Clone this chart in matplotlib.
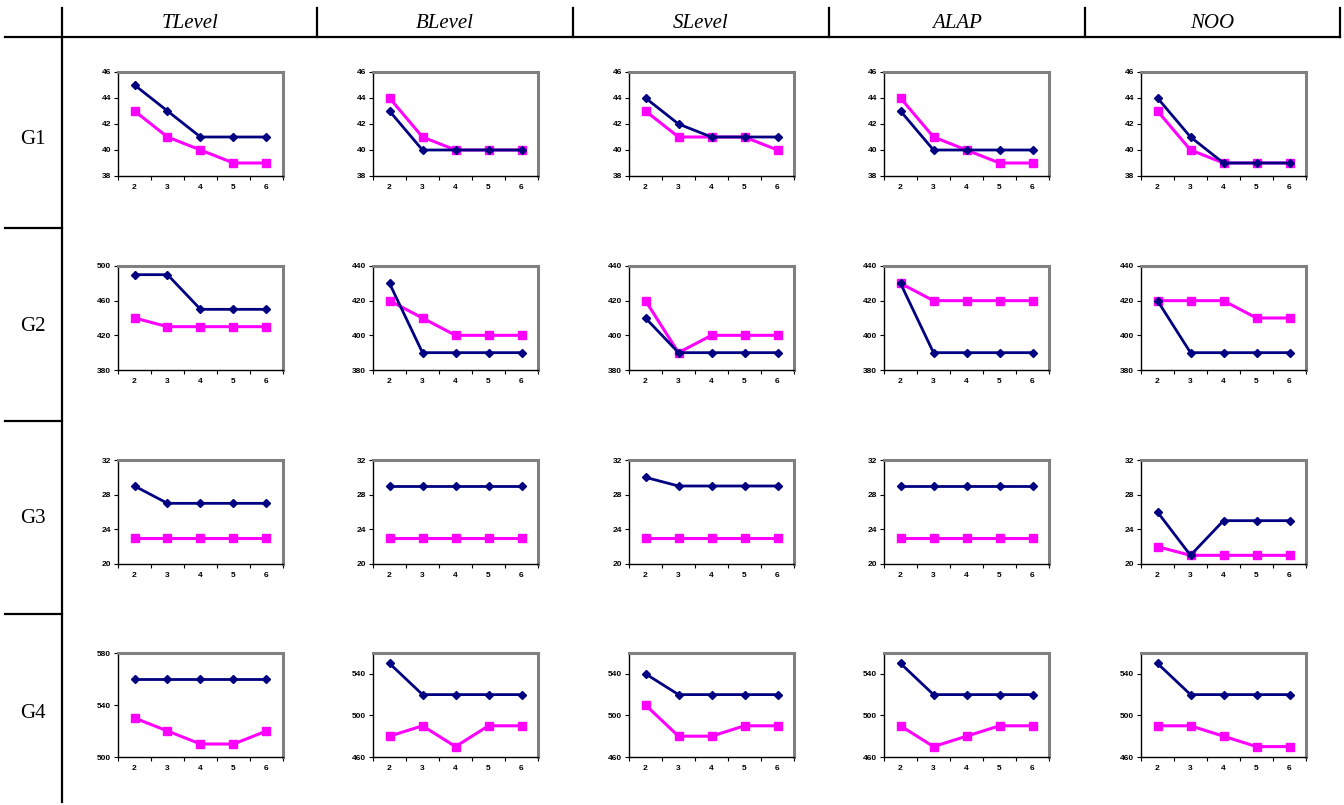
import numpy as np
import matplotlib
matplotlib.use("Agg")
import matplotlib.pyplot as plt

# --- data ---
methods = ["TLevel", "BLevel", "SLevel", "ALAP", "NOO"]
groups = ["G1", "G2", "G3", "G4"]
procs = [2, 3, 4, 5, 6]

# blue (diamond) series, one row per group, one list per method
g1_blue = [[45, 43, 41, 41, 41], [43, 40, 40, 40, 40], [44, 42, 41, 41, 41],
           [43, 40, 40, 40, 40], [44, 41, 39, 39, 39]]
g1_pink = [[43, 41, 40, 39, 39], [44, 41, 40, 40, 40], [43, 41, 41, 41, 40],
           [44, 41, 40, 39, 39], [43, 40, 39, 39, 39]]
g2_blue = [[490, 490, 450, 450, 450], [430, 390, 390, 390, 390], [410, 390, 390, 390, 390],
           [430, 390, 390, 390, 390], [420, 390, 390, 390, 390]]
g2_pink = [[440, 430, 430, 430, 430], [420, 410, 400, 400, 400], [420, 390, 400, 400, 400],
           [430, 420, 420, 420, 420], [420, 420, 420, 410, 410]]
g3_blue = [[29, 27, 27, 27, 27], [29, 29, 29, 29, 29], [30, 29, 29, 29, 29],
           [29, 29, 29, 29, 29], [26, 21, 25, 25, 25]]
g3_pink = [[23, 23, 23, 23, 23], [23, 23, 23, 23, 23], [23, 23, 23, 23, 23],
           [23, 23, 23, 23, 23], [22, 21, 21, 21, 21]]
g4_blue = [[560, 560, 560, 560, 560], [550, 520, 520, 520, 520], [540, 520, 520, 520, 520],
           [550, 520, 520, 520, 520], [550, 520, 520, 520, 520]]
g4_pink = [[530, 520, 510, 510, 520], [480, 490, 470, 490, 490], [510, 480, 480, 490, 490],
           [490, 470, 480, 490, 490], [490, 490, 480, 470, 470]]

blue_all = [g1_blue, g2_blue, g3_blue, g4_blue]
pink_all = [g1_pink, g2_pink, g3_pink, g4_pink]

# y axis range and ticks per cell
ylims = [[(38, 46)] * 5,
         [(380, 500)] + [(380, 440)] * 4,
         [(20, 32)] * 5,
         [(500, 580)] + [(460, 560)] * 4]
yticks = [[[38, 40, 42, 44, 46]] * 5,
          [[380, 420, 460, 500]] + [[380, 400, 420, 440]] * 4,
          [[20, 24, 28, 32]] * 5,
          [[500, 540, 580]] + [[460, 500, 540]] * 4]

# --- layout (pixels) ---
W, H = 1344, 805
fig = plt.figure(figsize=(W / 100, H / 100), dpi=100)

bg = fig.add_axes([0, 0, 1, 1])
bg.set_xlim(0, W)
bg.set_ylim(H, 0)
bg.axis("off")

lw_grid = 1.6
bg.plot([5, 1340], [37, 37], color="black", lw=lw_grid)
bg.plot([62, 62], [8, 802], color="black", lw=lw_grid)
for x in [317, 573, 829, 1085, 1340]:
    bg.plot([x, x], [8, 37], color="black", lw=lw_grid)
for y in [228, 421, 614]:
    bg.plot([5, 62], [y, y], color="black", lw=lw_grid)

col_centers = [190, 445, 701, 957, 1212]
for m, cx in zip(methods, col_centers):
    bg.text(cx, 23, m, ha="center", va="center", fontsize=15,
            family="Liberation Serif", style="italic")
row_centers = [140, 326, 518, 713]
for g, cy in zip(groups, row_centers):
    bg.text(33, cy, g, ha="center", va="center", fontsize=15,
            family="Liberation Serif")

col_lefts = [118, 373, 629, 884, 1141]
row_tops = [72, 266, 460, 653]
aw, ah = 165, 104

tick_font = dict(family="Liberation Sans", weight="bold", size=6)

for r in range(4):
    for c in range(5):
        l, t = col_lefts[c], row_tops[r]
        ax = fig.add_axes([l / W, 1 - (t + ah) / H, aw / W, ah / H])
        ax.plot(procs, blue_all[r][c], color="#000080", lw=2.0, marker="D",
                ms=4.2, zorder=3)
        ax.plot(procs, pink_all[r][c], color="#FF00FF", lw=2.2, marker="s",
                ms=5.2, zorder=2)
        ax.set_xlim(1.5, 6.5)
        ax.set_ylim(*ylims[r][c])
        ax.set_yticks(yticks[r][c])
        ax.set_xticks(procs)
        ax.set_xticks(np.arange(1.5, 7, 1), minor=True)
        ax.tick_params(axis="x", which="major", length=0, pad=6)
        ax.tick_params(axis="x", which="minor", length=3, width=0.8, direction="out")
        ax.tick_params(axis="y", length=3, width=0.8, direction="out", pad=2)
        for lab in ax.get_xticklabels() + ax.get_yticklabels():
            lab.set_fontproperties(tick_font)
        for s in ["top", "right"]:
            ax.spines[s].set_color("#808080")
            ax.spines[s].set_linewidth(2.2)
        for s in ["left", "bottom"]:
            ax.spines[s].set_color("black")
            ax.spines[s].set_linewidth(1)

fig.savefig("out.png", dpi=100)
